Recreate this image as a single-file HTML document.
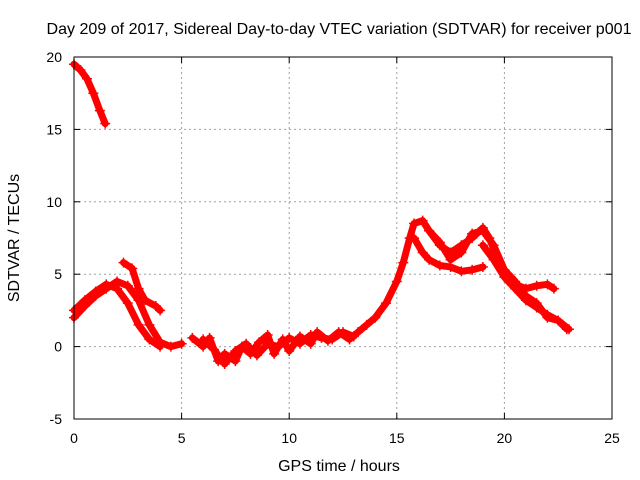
<!DOCTYPE html>
<html><head><meta charset="utf-8"><style>
body{margin:0;background:#fff}
svg{display:block;font-family:"Liberation Sans",sans-serif}
</style></head><body>
<svg id="chart" width="640" height="480" viewBox="0 0 640 480">
<rect width="640" height="480" fill="#fff"/>
<text x="339" y="34" font-size="16" text-anchor="middle" textLength="585" lengthAdjust="spacingAndGlyphs">Day 209 of 2017, Sidereal Day-to-day VTEC variation (SDTVAR) for receiver p001</text>
<text x="0" y="0" font-size="16" text-anchor="middle" transform="translate(19,238) rotate(-90)">SDTVAR / TECUs</text>
<text x="339" y="471" font-size="16" text-anchor="middle">GPS time / hours</text>
<g id="grid"></g><g id="ticks"></g><g id="series"></g>
<rect x="74" y="57" width="538" height="362" fill="none" stroke="#000" stroke-width="1"/>
</svg>
<script>
const xTicks=[0,5,10,15,20,25];
const yTicks=[-5,0,5,10,15,20];
const trace1=[[0,19.5],[0.3,19.1],[0.6,18.5],[0.9,17.5],[1.2,16.3],[1.45,15.4]];
const trace2=[[0,2.0],[0.5,2.8],[1,3.5],[1.5,4.0],[2,4.5],[2.5,4.2],[3,3.2],[3.5,1.5],[4,0.3],[4.5,0],[5,0.2]];
const trace3=[[0,2.5],[0.5,3.2],[1,3.8],[1.5,4.3],[2,4.0],[2.5,3.0],[3,1.5],[3.5,0.5],[4,0]];
const trace4=[[2.3,5.8],[2.7,5.4],[3,4.0],[3.3,3.2],[3.8,2.8],[4,2.5]];
const trace5=[[5.5,0.6],[6,0.0],[6.3,0.6],[6.7,-1.0],[7,-0.5],[7.5,-1.0],[7.8,0.0],[8.2,-0.5],[8.6,0.3],[9,0.8],[9.3,-0.5],[9.7,0.5],[10,-0.3],[10.5,0.7],[11,0.2],[11.3,1.0],[11.8,0.4],[12.3,1.0],[12.8,0.5],[13.2,1.0],[13.6,1.5],[14,2.0],[14.5,3.0],[15,4.5],[15.3,5.8],[15.6,7.5],[15.8,8.5],[16.2,8.7],[16.5,8.0],[17,7.0],[17.5,6.5],[18,7.0],[18.5,7.5],[19,8.2],[19.3,7.5],[19.7,6.0],[20,5.0],[20.5,4.3],[21,4.0],[21.5,4.2],[22,4.3],[22.3,4.0]];
const trace6=[[6,0.5],[6.5,-0.2],[7,-1.2],[7.5,-0.3],[8,0.2],[8.5,-0.6],[9,0.2],[9.5,0.0],[10,0.6],[10.5,0.2],[11,0.8],[11.5,0.6],[12,0.5],[12.5,1.0],[13,0.7]];
const trace7=[[15.8,7.5],[16.2,6.5],[16.5,6.0],[17,5.6],[17.5,5.5],[18,5.2],[18.5,5.3],[19,5.5]];
const trace8=[[16.5,8.0],[17,7.2],[17.5,6.0],[18,6.5],[18.5,7.8],[19,8.0],[19.5,7.0],[20,5.3],[20.5,4.5],[21,3.5],[21.5,3.0],[22,2.0],[22.5,1.8],[22.9,1.2]];
const trace9=[[19,7.0],[19.5,6.0],[20,4.8],[20.5,4.0],[21,3.2],[21.5,2.7],[22,2.2],[22.5,1.8],[23,1.2]];
const traces=[trace1,trace2,trace3,trace4,trace5,trace6,trace7,trace8,trace9];
const X=v=>74+v*538/25, Y=v=>419-(v+5)*362/25;
const NS="http://www.w3.org/2000/svg";
const mk=(t,a,p)=>{const e=document.createElementNS(NS,t);for(const k in a)e.setAttribute(k,a[k]);p.appendChild(e);return e;};
const grid=document.getElementById('grid'),ticks=document.getElementById('ticks'),ser=document.getElementById('series');
xTicks.forEach(t=>{
 if(t>0&&t<25){const g=mk('line',{x1:X(t),x2:X(t),y1:57,y2:419,stroke:'#a0a0a0','stroke-dasharray':'2,3'},grid);
 
 }
 mk('line',{x1:X(t),x2:X(t),y1:419,y2:413,stroke:'#000'},ticks);
 mk('line',{x1:X(t),x2:X(t),y1:57,y2:63,stroke:'#000'},ticks);
 const l=mk('text',{x:X(t),y:443,'font-size':14,'text-anchor':'middle'},ticks);l.textContent=t;
 
 
});
yTicks.forEach(t=>{
 if(t>-5&&t<20){const g=mk('line',{x1:74,x2:612,y1:Y(t),y2:Y(t),stroke:'#a0a0a0','stroke-dasharray':'2,3'},grid);
 
 }
 mk('line',{x1:74,x2:80,y1:Y(t),y2:Y(t),stroke:'#000'},ticks);
 mk('line',{x1:612,x2:606,y1:Y(t),y2:Y(t),stroke:'#000'},ticks);
 const l=mk('text',{x:62,y:Y(t)+5,'font-size':14,'text-anchor':'end'},ticks);l.textContent=t;
 
 
});
traces.forEach((tr,i)=>{
 const pl=mk('polyline',{points:tr.map(p=>X(p[0])+','+Y(p[1])).join(' '),fill:'none',stroke:'#f00','stroke-width':7,'stroke-linejoin':'round','stroke-linecap':'round'},ser);
 
 
 tr.forEach(p=>{
  const c=mk('path',{d:`M${X(p[0])-5},${Y(p[1])}h10M${X(p[0])},${Y(p[1])-5}v10`,stroke:'#f00','stroke-width':1.5},ser);
  
  
 });
});
</script>
</body></html>
